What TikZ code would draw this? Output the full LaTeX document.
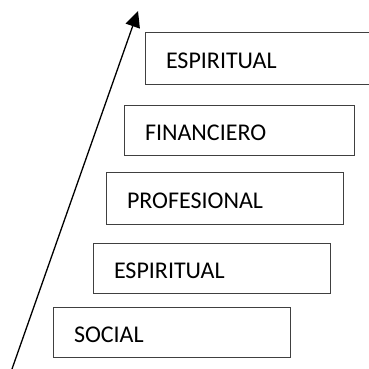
\documentclass[tikz,border=0pt]{standalone}
\usepackage{fontspec}
\setmainfont{Carlito}
\usetikzlibrary{
    arrows.meta,
    positioning
}
\tikzset {
    level box/.style = {
        draw = black!75, line width = 0.9pt,
        minimum height = 50pt, inner xsep = 21pt,
        align = left, text height = 20pt, text depth = 0pt,
        font = \fontsize{24}{28}\selectfont
    },
    rise arrow/.style = {line width = 1.3pt, -{Triangle[length = 16pt, width = 15pt]}},
}

\begin{document}
\begin{tikzpicture}[x = 1pt, y = 1pt]
            \useasboundingbox (0, 0) rectangle (369, 368);
            \node (social) [level box, text width = 195pt] at (171.5, 36) {SOCIAL};
            \node (espiritual) [level box, text width = 195pt] at (211.5, 100) {ESPIRITUAL};
            \node (profesional) [level box, text width = 195pt, minimum height = 52pt] at (224.5, 170) {PROFESIONAL};
            \node (financiero) [level box, text width = 188pt] at (239, 238) {FINANCIERO};
            \node (espiritual2) [level box, text width = 184pt, minimum height = 52pt] at (258, 310) {ESPIRITUAL};
            \coordinate (base) at (12, -1);
            \coordinate (top) at (138, 357);
            \draw [rise arrow] (base) -- (top);
        \end{tikzpicture}
\end{document}
